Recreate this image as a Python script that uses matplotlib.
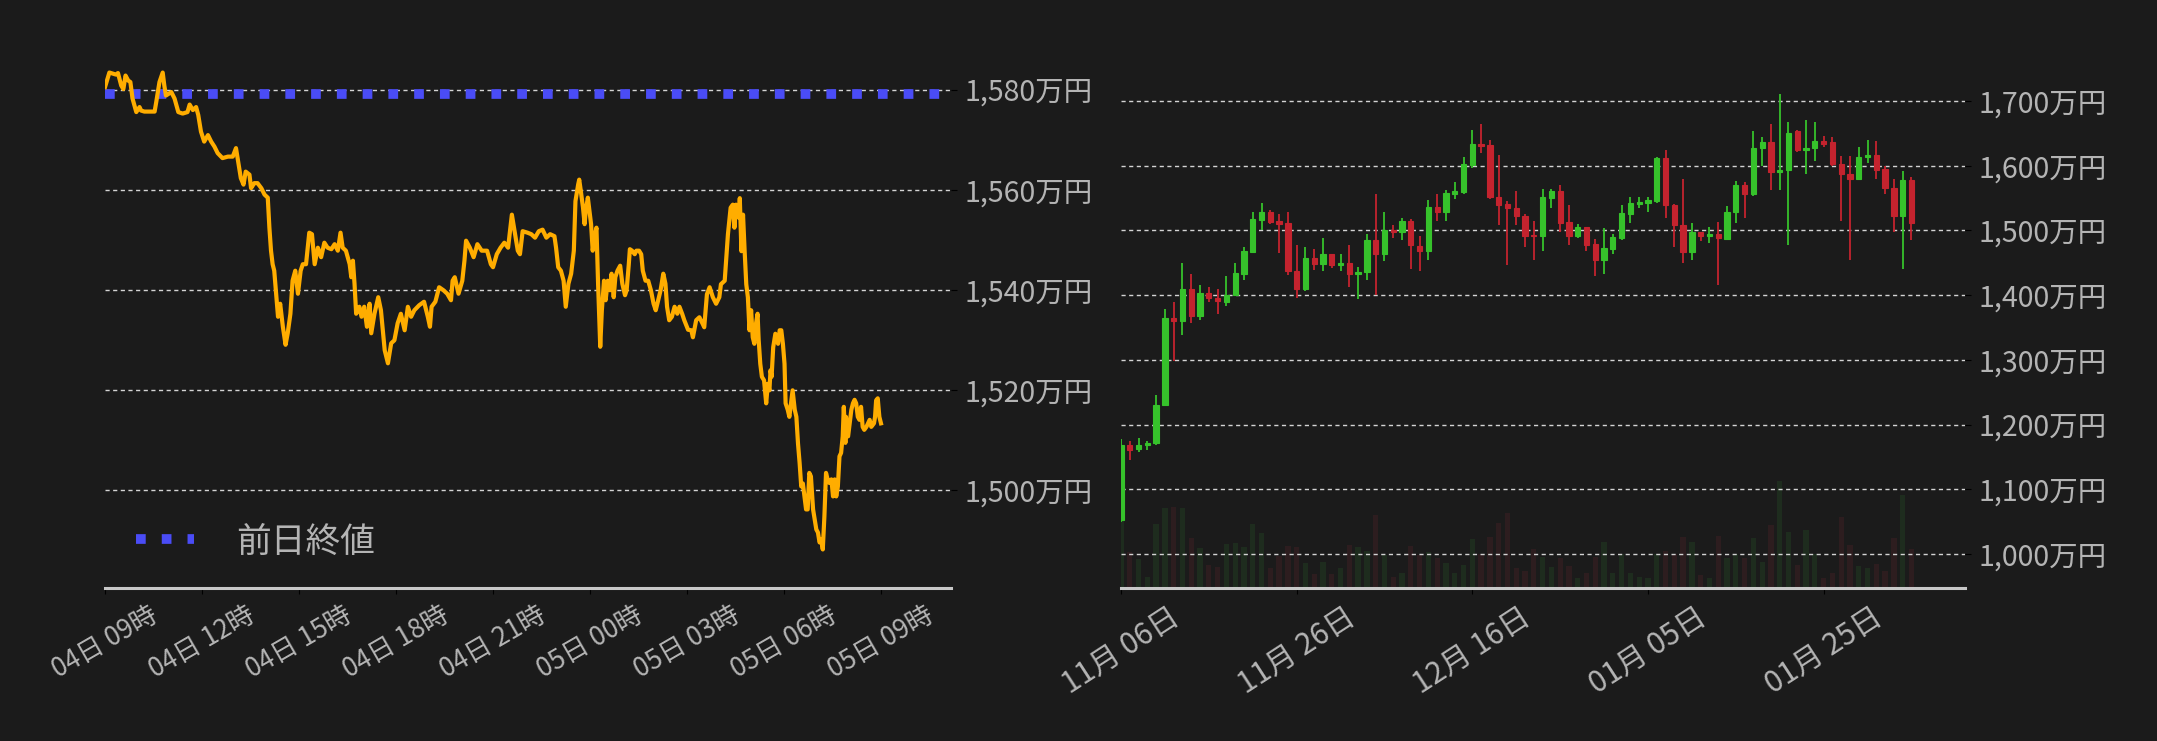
import numpy as np
import pandas as pd
import matplotlib
matplotlib.use('Agg')
import matplotlib.pyplot as plt
import matplotlib.dates as mdates
from matplotlib.ticker import FuncFormatter

plt.rcParams['font.family'] = ['Noto Sans CJK JP', 'DejaVu Sans']

# ---- intraday price (minutes after 04日 09時, 万円) ----
minutes = [0, 8, 14, 20, 24, 30, 34, 38, 43, 47, 51, 58, 64, 67, 73, 82, 92, 95, 101, 107,
           110, 113, 123, 129, 136, 144, 153, 157, 163, 169, 173, 178, 184, 191, 197, 203, 209, 218, 228, 237,
           243, 248, 252, 257, 261, 268, 271, 277, 283, 290, 296, 302, 305, 308, 311, 314, 317, 321, 325, 330,
           335, 339, 344, 348, 353, 358, 363, 367, 373, 379, 384, 389, 395, 401, 407, 413, 420, 426, 432, 437,
           441, 447, 454, 457, 460, 463, 466, 472, 476, 481, 486, 491, 494, 500, 507, 512, 519, 525, 531, 537,
           543, 549, 556, 562, 568, 574, 583,
           592, 599, 603, 606, 613, 620, 628, 635, 642, 645, 649, 656, 663, 667, 670, 677, 684, 691, 699, 709,
           716, 720, 727, 734, 741, 748, 755, 759, 766, 770, 775, 784, 791, 798, 805, 812, 819, 826, 834, 837,
           841, 846, 851, 855, 860, 865, 870, 873, 878, 880, 883, 887, 890, 892, 896, 899, 902, 905, 908, 912,
           915, 919, 922, 926, 929, 933, 937, 940, 944, 947, 951, 956, 960, 965, 968, 972, 974, 978, 983, 986,
           991, 995, 998, 1003, 1008, 1013, 1018, 1022, 1025, 1031, 1036, 1040, 1043, 1047, 1052, 1057, 1062, 1066, 1071, 1075,
           1082,
           1088, 1091, 1097, 1103, 1109, 1112, 1117, 1122, 1128, 1134, 1140, 1143, 1150, 1153, 1156, 1161, 1165, 1168, 1171, 1176,
           1178, 1181, 1184, 1187, 1190, 1193, 1196, 1199, 1202, 1205, 1208, 1211, 1213, 1216, 1219, 1223, 1227, 1230, 1233, 1235,
           1237, 1240, 1244, 1249, 1252, 1255, 1258, 1261, 1263, 1267, 1270, 1273, 1276, 1280, 1283, 1286, 1289, 1292, 1295, 1298,
           1301, 1304, 1307, 1310, 1314, 1317, 1320, 1323, 1326, 1329, 1332, 1335, 1338, 1341, 1344, 1348, 1351, 1354, 1357, 1360,
           1363, 1366, 1369, 1371, 1374, 1375, 1379, 1382, 1385, 1388, 1391, 1394, 1397, 1400, 1403, 1406, 1409, 1413, 1416, 1419,
           1422, 1427, 1429, 1431, 1434, 1437, 1440]
prices = [1580.5, 1583.4, 1583.2, 1583.0, 1583.3, 1580.8, 1580.1, 1582.8, 1581.8, 1581.5, 1578.2, 1575.5, 1576.5, 1575.8, 1575.6, 1575.6, 1575.6, 1577.5, 1581.5, 1583.4,
          1580.8, 1578.8, 1579.5, 1578.2, 1575.5, 1575.2, 1575.5, 1577.0, 1575.9, 1576.5, 1574.9, 1571.6, 1569.6, 1570.9, 1569.6, 1568.6, 1567.3, 1566.3, 1566.6, 1566.6,
          1568.3, 1565.0, 1562.3, 1561.0, 1563.6, 1563.0, 1560.3, 1561.3, 1561.3, 1560.3, 1559.0, 1558.4, 1552.4, 1547.8, 1545.1, 1543.8, 1539.9, 1534.6, 1537.2, 1532.6,
          1529.0, 1531.3, 1535.2, 1541.8, 1543.8, 1539.2, 1543.8, 1545.1, 1545.1, 1551.4, 1551.1, 1545.1, 1548.4, 1546.5, 1549.4, 1548.4, 1548.1, 1549.1, 1547.8, 1551.4,
          1548.4, 1547.8, 1545.1, 1542.5, 1545.8, 1541.2, 1535.2, 1536.6, 1534.6, 1536.6, 1532.6, 1537.2, 1531.3, 1535.2, 1538.5, 1535.9, 1527.9, 1525.3, 1529.3, 1529.9,
          1533.3, 1535.2, 1531.9, 1536.6, 1534.6, 1535.9, 1536.9,
          1537.6, 1534.6, 1532.6, 1536.6, 1537.6, 1540.5, 1539.9, 1539.2, 1537.9, 1541.8, 1542.5, 1539.2, 1541.8, 1545.8, 1549.8, 1548.4, 1546.5, 1549.1, 1547.8, 1547.8,
          1545.1, 1544.5, 1547.1, 1548.4, 1549.4, 1548.4, 1555.0, 1552.4, 1547.8, 1547.1, 1551.7, 1551.4, 1551.1, 1550.4, 1551.7, 1552.0, 1550.4, 1551.1, 1550.7, 1548.4,
          1544.5, 1543.8, 1541.8, 1536.6, 1541.2, 1543.2, 1547.8, 1557.7, 1561.0, 1562.0, 1559.7, 1556.4, 1553.1, 1555.7, 1558.4, 1555.7, 1553.1, 1547.8, 1550.4, 1552.4,
          1541.2, 1528.6, 1535.9, 1541.8, 1537.9, 1541.8, 1539.9, 1543.2, 1538.5, 1542.5, 1543.8, 1544.8, 1541.2, 1538.9, 1539.9, 1545.1, 1548.1, 1547.8, 1547.1, 1547.8,
          1547.8, 1547.1, 1543.8, 1541.8, 1541.8, 1539.9, 1537.2, 1535.9, 1537.2, 1539.9, 1543.2, 1541.2, 1536.6, 1533.9, 1534.6, 1536.6, 1535.2, 1536.6, 1535.2, 1533.9,
          1532.0,
          1531.9, 1530.5, 1533.9, 1534.5, 1533.2, 1532.5, 1539.1, 1540.5, 1538.5, 1537.2, 1538.5, 1541.1, 1541.8, 1546.4, 1551.1, 1556.4, 1557.0, 1552.4, 1557.0, 1554.4,
          1558.3, 1547.7, 1555.0, 1547.7, 1541.1, 1538.5, 1531.9, 1535.9, 1530.5, 1529.2, 1533.2, 1535.2, 1530.0, 1525.2, 1522.6, 1521.9, 1517.3, 1521.2, 1519.9, 1523.9,
          1522.6, 1528.5, 1531.2, 1529.2, 1531.9, 1531.9, 1529.2, 1525.2, 1517.3, 1516.0, 1514.6, 1517.3, 1519.9, 1516.0, 1514.6, 1509.3, 1505.4, 1500.7, 1501.3, 1498.7,
          1496.1, 1496.1, 1503.4, 1502.7, 1496.1, 1494.1, 1492.1, 1491.5, 1489.5, 1490.1, 1488.1, 1494.7, 1503.4, 1502.1, 1501.4, 1502.1, 1498.7, 1502.1, 1498.7, 1500.7,
          1506.7, 1507.4, 1510.7, 1516.6, 1509.4, 1514.6, 1510.7, 1513.3, 1516.0, 1517.3, 1518.0, 1517.3, 1514.6, 1514.0, 1516.6, 1512.6, 1512.0, 1512.6, 1513.3, 1514.0,
          1512.6, 1513.3, 1514.6, 1517.9, 1518.3, 1514.6, 1513.3]
prev_close = 1579.1
legend_label = '前日終値'

# ---- daily candles (万円) ----
opens = [1052, 1168, 1162, 1168, 1171, 1230, 1365, 1360, 1410, 1368,
         1404, 1396, 1389, 1400, 1432, 1467, 1516, 1529, 1514, 1511,
         1438, 1409, 1457, 1448, 1463, 1446, 1450, 1432, 1436, 1486,
         1463, 1500, 1498, 1515, 1476, 1468, 1537, 1528, 1557, 1560,
         1601, 1634, 1632, 1552, 1541, 1535, 1523, 1492, 1491, 1550,
         1561, 1513, 1491, 1506, 1479, 1454, 1472, 1489, 1526, 1541,
         1543, 1546, 1612, 1540, 1509, 1466, 1498, 1491, 1495, 1487,
         1528, 1571, 1556, 1627, 1636, 1590, 1593, 1653, 1625, 1627,
         1639, 1636, 1603, 1588, 1580, 1613, 1617, 1595, 1566, 1522, 1578]
highs = [1178, 1174, 1180, 1175, 1245, 1378, 1389, 1449, 1432, 1415,
         1413, 1410, 1430, 1450, 1475, 1528, 1543, 1531, 1526, 1529,
         1478, 1474, 1471, 1488, 1463, 1463, 1478, 1444, 1495, 1557,
         1528, 1509, 1519, 1517, 1492, 1547, 1557, 1563, 1575, 1614,
         1656, 1665, 1640, 1617, 1546, 1561, 1526, 1515, 1564, 1564,
         1571, 1540, 1510, 1506, 1487, 1504, 1495, 1540, 1551, 1551,
         1551, 1614, 1625, 1541, 1580, 1512, 1498, 1506, 1513, 1538,
         1577, 1575, 1653, 1645, 1665, 1711, 1668, 1656, 1670, 1668,
         1646, 1645, 1615, 1615, 1629, 1640, 1639, 1599, 1580, 1592, 1583]
lows = [1050, 1145, 1157, 1160, 1168, 1228, 1299, 1339, 1357, 1362,
        1389, 1371, 1383, 1398, 1423, 1465, 1500, 1510, 1465, 1431,
        1395, 1406, 1439, 1437, 1442, 1437, 1412, 1394, 1423, 1400,
        1453, 1488, 1485, 1440, 1437, 1454, 1515, 1514, 1548, 1557,
        1596, 1619, 1549, 1509, 1446, 1509, 1475, 1455, 1469, 1534,
        1498, 1477, 1489, 1468, 1430, 1432, 1464, 1486, 1511, 1534,
        1529, 1542, 1520, 1474, 1449, 1454, 1483, 1480, 1416, 1485,
        1512, 1519, 1554, 1599, 1563, 1562, 1478, 1621, 1588, 1608,
        1629, 1599, 1515, 1455, 1580, 1604, 1579, 1557, 1498, 1440, 1486]
closes = [1168, 1161, 1169, 1172, 1231, 1365, 1360, 1410, 1368, 1404,
          1395, 1391, 1400, 1434, 1468, 1517, 1529, 1513, 1510, 1437,
          1409, 1457, 1448, 1463, 1446, 1450, 1432, 1436, 1486, 1463,
          1500, 1498, 1515, 1477, 1468, 1537, 1528, 1558, 1561, 1602,
          1634, 1631, 1551, 1540, 1534, 1522, 1492, 1491, 1551, 1561,
          1512, 1491, 1506, 1478, 1454, 1473, 1490, 1527, 1543, 1544,
          1547, 1612, 1539, 1508, 1466, 1498, 1491, 1495, 1488, 1529,
          1571, 1556, 1628, 1636, 1590, 1594, 1651, 1625, 1628, 1639,
          1634, 1602, 1587, 1580, 1614, 1617, 1594, 1565, 1522, 1578, 1512]
volume = [200, 108, 88, 34, 193, 241, 244, 241, 151, 121,
          70, 64, 133, 136, 124, 193, 166, 61, 97, 127,
          124, 76, 43, 79, 43, 61, 130, 124, 112, 220,
          100, 34, 46, 127, 100, 109, 91, 76, 46, 70,
          148, 103, 154, 196, 226, 61, 52, 118, 94, 64,
          91, 67, 31, 46, 94, 139, 46, 101, 46, 34,
          31, 101, 111, 101, 154, 139, 40, 31, 157, 91,
          101, 91, 151, 79, 190, 322, 169, 70, 175, 101,
          31, 46, 214, 130, 67, 61, 73, 52, 151, 280, 118]

BG = '#1b1b1b'
TXT = '#b4b4b4'
GRID = '#d4d4d4'
UP = '#36c22b'
DOWN = '#c4232e'
UP_VOL = '#1e2c1e'
DOWN_VOL = '#2d1d1f'

fig = plt.figure(figsize=(21.57, 7.41), dpi=100, facecolor=BG)
ax1 = fig.add_axes([0.0487, 0.2065, 0.3922, 0.7395])
ax2 = fig.add_axes([0.5197, 0.2065, 0.3913, 0.7395])

yen_fmt = FuncFormatter(lambda v, p: f'{v:,.0f}万円')


def style_axes(ax):
    ax.set_facecolor(BG)
    for s in ['top', 'left', 'right']:
        ax.spines[s].set_visible(False)
    ax.spines['bottom'].set_color('#c8c8c8')
    ax.spines['bottom'].set_linewidth(2.2)
    ax.yaxis.tick_right()
    ax.tick_params(axis='y', colors='black', labelcolor=TXT, labelsize=20.5, length=4, pad=6)
    ax.tick_params(axis='x', colors='black', labelcolor=TXT, length=4, pad=6)
    ax.grid(axis='y', color=GRID, linestyle=(0, (3, 2.5)), linewidth=1)
    ax.yaxis.set_major_formatter(yen_fmt)


# ---- left: intraday line ----
base = pd.Timestamp('2025-02-04 09:00')
times = base + pd.to_timedelta(minutes, unit='m')
style_axes(ax1)
ax1.plot(times, prices, color='#ffad00', linewidth=3, zorder=3)
ax1.axhline(prev_close, color='#4a4cf6', linestyle=':', linewidth=7, label=legend_label, zorder=2)
ax1.set_xlim(base, base + pd.Timedelta(minutes=1570))
ax1.set_ylim(1480.4, 1589.9)
ax1.set_yticks(np.arange(1500, 1581, 20))
ax1.xaxis.set_major_locator(mdates.HourLocator(byhour=range(0, 24, 3)))
ax1.xaxis.set_major_formatter(mdates.DateFormatter('%d日 %H時'))
plt.setp(ax1.get_xticklabels(), rotation=30, fontsize=19)
leg = ax1.legend(loc='lower left', bbox_to_anchor=(0.0, -0.005), frameon=False, fontsize=25,
                 handlelength=1.67, handletextpad=1.2)
for t in leg.get_texts():
    t.set_color(TXT)

# ---- right: daily candles with volume ----
days = pd.date_range('2024-11-06', periods=len(opens), freq='D')
x = mdates.date2num(days)
o = np.array(opens, dtype=float)
h = np.array(highs, dtype=float)
l = np.array(lows, dtype=float)
c = np.array(closes, dtype=float)
up = c >= o

axv = ax2.twinx()
axv.bar(x, volume, width=0.6, color=np.where(up, UP_VOL, DOWN_VOL), zorder=1)
axv.set_ylim(0, max(volume) * 5.1)
axv.axis('off')
ax2.set_zorder(axv.get_zorder() + 1)

style_axes(ax2)
ax2.patch.set_visible(False)
cols = np.where(up, UP, DOWN)
ax2.vlines(x, l, h, colors=cols, linewidth=1.3, zorder=3)
body = np.maximum(np.abs(c - o), 1.5)
ax2.bar(x, body, bottom=np.minimum(o, c), width=0.6, color=cols, edgecolor=cols,
        linewidth=0.8, zorder=4)
ax2.set_xlim(x[0], x[0] + 96.1)
ax2.set_ylim(947.5, 1794.3)
ax2.set_yticks(np.arange(1000, 1701, 100))
ax2.set_xticks(mdates.date2num(pd.date_range('2024-11-06', periods=5, freq='20D')))
ax2.xaxis.set_major_formatter(mdates.DateFormatter('%m月 %d日'))
plt.setp(ax2.get_xticklabels(), rotation=33, fontsize=21.5)

fig.savefig('out.png', dpi=100, facecolor=BG)
